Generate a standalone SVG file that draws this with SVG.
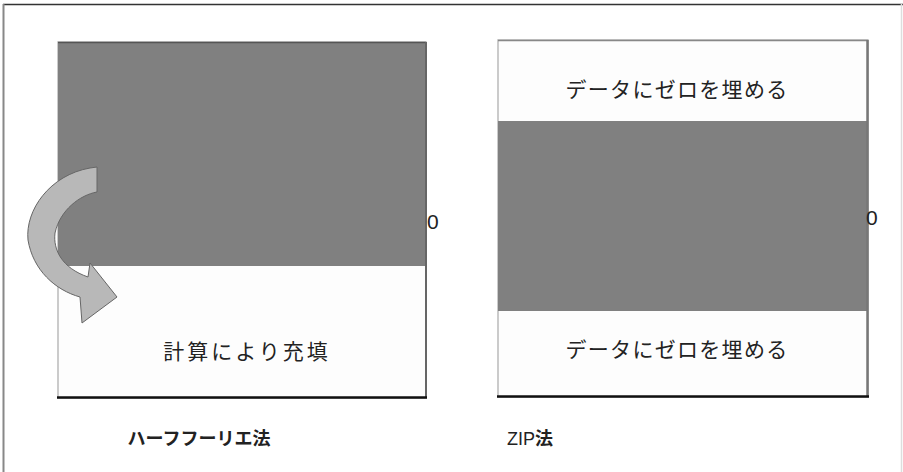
<svg xmlns="http://www.w3.org/2000/svg" width="903" height="472" viewBox="0 0 903 472">
<style>
.jp{font-family:"Noto Sans CJK JP","Noto Sans",sans-serif;fill:#222}
.num{font-family:"Liberation Sans",Arial,sans-serif;fill:#222}
.white{fill:#fdfdfd}
.dark{fill:#808080}
.fill{letter-spacing:1.3px}
</style>
<rect width="903" height="472" fill="#ffffff"/>
<g id="frame">
<line x1="3" y1="4.5" x2="903" y2="4.5" stroke="#333" stroke-width="1.5"/>
<line x1="3.5" y1="4" x2="3.5" y2="472" stroke="#888" stroke-width="2"/>
<line x1="901.5" y1="4" x2="901.5" y2="472" stroke="#ddd" stroke-width="1.5"/>
</g>
<g id="half-fourier">
<rect x="58" y="42" width="368" height="356" class="white" stroke="#bbb" stroke-width="1.5"/>
<rect x="58" y="42" width="368" height="224" class="dark"/>
<line x1="58" y1="42.5" x2="426" y2="42.5" stroke="#555" stroke-width="1.5"/>
<line x1="426" y1="42" x2="426" y2="398" stroke="#666" stroke-width="2"/>
<line x1="57" y1="397.5" x2="427" y2="397.5" stroke="#111" stroke-width="2.5"/>
<text x="247" y="359" text-anchor="middle" class="jp" font-size="21" letter-spacing="3">計算により充填</text>
<text x="427" y="229" class="num" font-size="21">0</text>
</g>
<g id="zip">
<rect x="498" y="40" width="370" height="357" class="white" stroke="#bbb" stroke-width="1.5"/>
<rect x="498" y="121" width="370" height="190" class="dark"/>
<line x1="498" y1="40.5" x2="868" y2="40.5" stroke="#888" stroke-width="1.5"/>
<line x1="867.5" y1="40" x2="867.5" y2="397" stroke="#777" stroke-width="2.5"/>
<line x1="497" y1="396.5" x2="869" y2="396.5" stroke="#111" stroke-width="2.5"/>
<text x="677" y="97" text-anchor="middle" class="jp fill" font-size="21">データにゼロを埋める</text>
<text x="677" y="357" text-anchor="middle" class="jp fill" font-size="21">データにゼロを埋める</text>
<text x="866" y="225" class="num" font-size="21">0</text>
</g>
<g id="arrow">
<path d="M90,168 L97,167 L97,192 C80,195 60,210 55,233 C53,250 62,268 88,277 L90,263 L117,297 L82,323 L80,297 C55,290 33,270 28,240 C25,210 50,175 90,168 Z" fill="#b8b8b8" stroke="#666" stroke-width="1"/>
</g>
<g id="labels">
<text x="199" y="445" text-anchor="middle" class="jp" font-size="18" font-weight="bold">ハーフフーリエ法</text>
<text x="530" y="445" text-anchor="middle" class="jp" font-size="18"><tspan class="num">ZIP</tspan><tspan font-weight="bold">法</tspan></text>
</g>
</svg>
